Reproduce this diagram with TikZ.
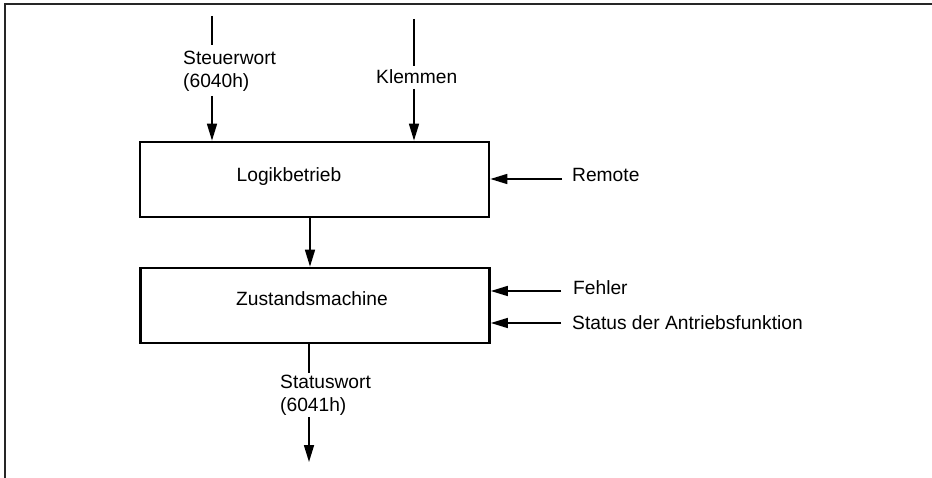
\documentclass[tikz,border=0pt]{standalone}
\usepackage{fontspec}
\setmainfont{Liberation Sans}
\usetikzlibrary{arrows.meta}
\begin{document}
\begin{tikzpicture}[x=1pt,y=-1pt,
  every node/.style={font=\fontsize{19.2}{23}\selectfont, inner sep=0pt},
  blockbox/.style={draw, line width=2.7pt, minimum width=349pt, minimum height=75pt},
  flow/.style={line width=1.6pt, -{Triangle[length=17pt,width=10pt]}},
  plain/.style={line width=1.6pt},
  lbl/.style={anchor=west, align=left}]
  \useasboundingbox (0,0) rectangle (932,478);
  % outer frame: top and left edges
  \draw[line width=1.8pt, black!85] (932,4) -- (5,4) -- (5,478);

  % blocks
  \node[blockbox] (logik) at (314.5,179.5) {};
  \node at (289,177) (logiktext) {Logikbetrieb};
  \node[blockbox] (zustand) at (315,305.5) {};
  \node at (312,299) (zustandtext) {Zustandsmachine};

  % Steuerwort input
  \coordinate (sw0) at (212,16);
  \coordinate (sw1) at (212,45);
  \coordinate (sw2) at (212,96);
  \node[lbl] (swlbl) at (183,71) {Steuerwort\\(6040h)};
  \draw[plain] (sw0) -- (sw1);
  \draw[flow] (sw2) -- (sw2 |- logik.north);

  % Klemmen input
  \coordinate (kl0) at (414,19);
  \coordinate (kl1) at (414,66);
  \coordinate (kl2) at (414,89);
  \node[lbl] (kllbl) at (376,77) {Klemmen};
  \draw[plain] (kl0) -- (kl1);
  \draw[flow] (kl2) -- (kl2 |- logik.north);

  % block to block
  \draw[flow] (310,217) coordinate (m0) -- (m0 |- zustand.north);

  % inputs from the right
  \coordinate (rm) at (562,179);
  \node[lbl] (rmlbl) at (572,175) {Remote};
  \draw[flow] (rm) -- (rm -| logik.east);

  \coordinate (fe) at (561,291);
  \node[lbl] (felbl) at (573,288) {Fehler};
  \draw[flow] (fe) -- (fe -| zustand.east);

  \coordinate (st) at (561,323);
  \node[lbl] (stlbl) at (572,323) {Status der Antriebsfunktion};
  \draw[flow] (st) -- (st -| zustand.east);

  % Statuswort output
  \coordinate (so1) at (309,373);
  \coordinate (so2) at (309,417);
  \coordinate (so3) at (309,462);
  \node[lbl] (solbl) at (280,395) {Statuswort\\(6041h)};
  \draw[plain] (so1 |- zustand.south) -- (so1);
  \draw[flow] (so2) -- (so3);
\end{tikzpicture}
\end{document}
